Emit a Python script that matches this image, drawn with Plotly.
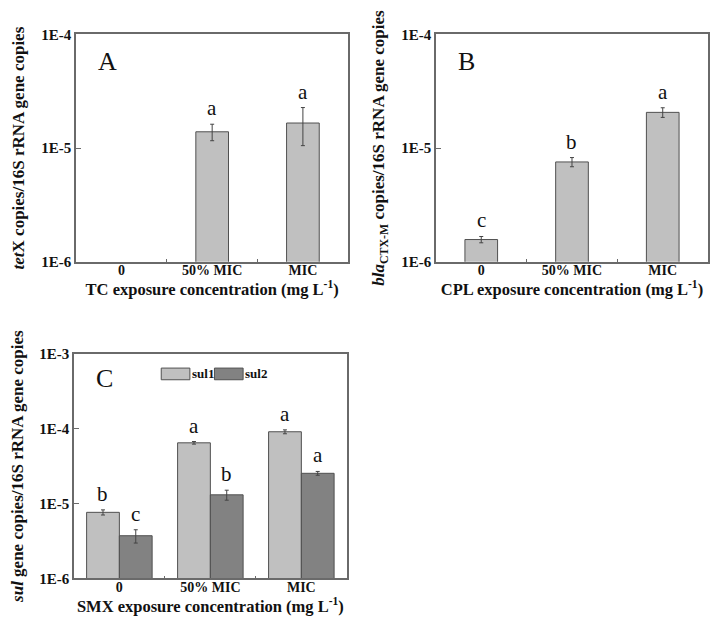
import math
import plotly.graph_objects as go

# Data
CATEGORIES = ["0", "50% MIC", "MIC"]

TETX = [None, 1.39e-5, 1.66e-5]
TETX_ERR = [0, 2.3e-6, 6.1e-6]
TETX_SIG = ["", "a", "a"]

BLA = [1.57e-6, 7.55e-6, 2.06e-5]
BLA_ERR = [1.0e-7, 7.0e-7, 2.0e-6]
BLA_SIG = ["c", "b", "a"]

SUL1 = [7.64e-6, 6.49e-5, 9.12e-5]
SUL1_ERR = [6.0e-7, 2.6e-6, 5.5e-6]
SUL1_SIG = ["b", "a", "a"]

SUL2 = [3.72e-6, 1.31e-5, 2.54e-5]
SUL2_ERR = [7.5e-7, 2.0e-6, 1.5e-6]
SUL2_SIG = ["c", "b", "a"]

# Style
FONT = "Liberation Serif, Times New Roman, serif"
LIGHT = "#c0c0c0"
DARK = "#828282"
EDGE = "#505050"
AXIS = "#6a6a6a"
TEXT = "#111111"


def bar(y, err, color, xaxis, yaxis, offset=None, width=0.36):
    return go.Bar(
        x=[0, 1, 2], y=y, width=width, offset=offset,
        marker=dict(color=color, line=dict(color=EDGE, width=1)),
        error_y=dict(type="data", array=err, color="#444444", thickness=1, width=2),
        xaxis=xaxis, yaxis=yaxis, showlegend=False, hoverinfo="skip",
    )


fig = go.Figure()
fig.add_trace(bar(TETX, TETX_ERR, LIGHT, "x", "y"))
fig.add_trace(bar(BLA, BLA_ERR, LIGHT, "x2", "y2"))
fig.add_trace(bar(SUL1, SUL1_ERR, LIGHT, "x3", "y3", offset=-0.36))
fig.add_trace(bar(SUL2, SUL2_ERR, DARK, "x3", "y3", offset=0.0))


# significance letters above the error bars
def letters(vals, errs, sig, xref, yref, xs):
    for xv, v, e, s in zip(xs, vals, errs, sig):
        if v is None or not s:
            continue
        fig.add_annotation(x=xv, y=math.log10(v + e), xref=xref, yref=yref,
                           text=s, showarrow=False, yanchor="bottom", yshift=2,
                           font=dict(family=FONT, size=21, color=TEXT))


letters(TETX, TETX_ERR, TETX_SIG, "x", "y", [0, 1, 2])
letters(BLA, BLA_ERR, BLA_SIG, "x2", "y2", [0, 1, 2])
letters(SUL1, SUL1_ERR, SUL1_SIG, "x3", "y3", [-0.18, 0.82, 1.82])
letters(SUL2, SUL2_ERR, SUL2_SIG, "x3", "y3", [0.18, 1.18, 2.18])

# panel labels
for lab, xr, yr, yy in [("A", "x domain", "y domain", 0.88), ("B", "x2 domain", "y2 domain", 0.88),
                        ("C", "x3 domain", "y3 domain", 0.89)]:
    fig.add_annotation(x=0.075, y=yy, xref=xr, yref=yr, text=lab, showarrow=False,
                       xanchor="left", yanchor="middle",
                       font=dict(family=FONT, size=26, color=TEXT))

# custom legend for panel C
for x0, col, txt in [(0.32, LIGHT, "sul1"), (0.515, DARK, "sul2")]:
    fig.add_shape(type="rect", xref="x3 domain", yref="y3 domain",
                  x0=x0, x1=x0 + 0.105, y0=0.885, y1=0.937,
                  fillcolor=col, line=dict(color=EDGE, width=1))
    fig.add_annotation(x=x0 + 0.105, y=0.911, xref="x3 domain", yref="y3 domain",
                       text="<b>" + txt + "</b>", showarrow=False, xanchor="left", yanchor="middle",
                       font=dict(family=FONT, size=13, color=TEXT))

xcommon = dict(
    range=[-0.5, 2.5], tickmode="array", tickvals=[0, 1, 2], ticktext=["<b>%s</b>" % c for c in CATEGORIES],
    ticks="", showline=True, linecolor=AXIS, linewidth=1.5, mirror=True,
    showgrid=False, zeroline=False, ticklabelstandoff=-5,
    tickfont=dict(family=FONT, size=14, color=TEXT),
    minor=dict(tickvals=[0.5, 1.5], ticks="inside", ticklen=3, tickcolor=AXIS),
)
ycommon = dict(
    type="log", showline=True, linecolor=AXIS, linewidth=1.5, mirror=True,
    showgrid=False, zeroline=False, ticks="inside", ticklen=5, tickcolor=AXIS,
    tickfont=dict(family=FONT, size=15, color=TEXT),
)
ytitle_font = dict(family=FONT, size=17, color=TEXT)
xtitle_font = dict(family=FONT, size=16.5, color=TEXT)


def ticks(lo, hi):
    vals = [10.0 ** p for p in range(lo, hi + 1)]
    return vals, ["<b>1E%d</b>" % p for p in range(lo, hi + 1)]


tv1, tt1 = ticks(-6, -4)
tv3, tt3 = ticks(-6, -3)

fig.update_layout(
    width=724, height=626, margin=dict(l=0, r=0, t=0, b=0),
    paper_bgcolor="white", plot_bgcolor="white", barmode="overlay",
    showlegend=False,
    xaxis=dict(domain=[0.094, 0.470], anchor="y",
               title=dict(text="<b>TC exposure concentration (mg L<sup>-1</sup>)</b>", font=xtitle_font, standoff=1),
               **xcommon),
    yaxis=dict(domain=[0.597, 0.970], anchor="x", range=[-6, -4], tickvals=tv1, ticktext=tt1,
               title=dict(text="<b><i>tet</i>X copies/16S rRNA gene copies</b>", font=ytitle_font, standoff=12),
               **ycommon),
    xaxis2=dict(domain=[0.591, 0.967], anchor="y2",
                title=dict(text="<b>CPL exposure concentration (mg L<sup>-1</sup>)</b>", font=xtitle_font, standoff=1),
                **xcommon),
    yaxis2=dict(domain=[0.597, 0.970], anchor="x2", range=[-6, -4], tickvals=tv1, ticktext=tt1,
                title=dict(text="<b><i>bla</i><sub>CTX-M</sub> copies/16S rRNA gene copies</b>", font=ytitle_font, standoff=12),
                **ycommon),
    xaxis3=dict(domain=[0.091, 0.468], anchor="y3",
                title=dict(text="<b>SMX exposure concentration (mg L<sup>-1</sup>)</b>", font=xtitle_font, standoff=1),
                **xcommon),
    yaxis3=dict(domain=[0.078, 0.446], anchor="x3", range=[-6, -3], tickvals=tv3, ticktext=tt3,
                title=dict(text="<b><i>sul</i> gene copies/16S rRNA gene copies</b>", font=ytitle_font, standoff=12),
                **ycommon),
)

fig.write_html("out.html")
